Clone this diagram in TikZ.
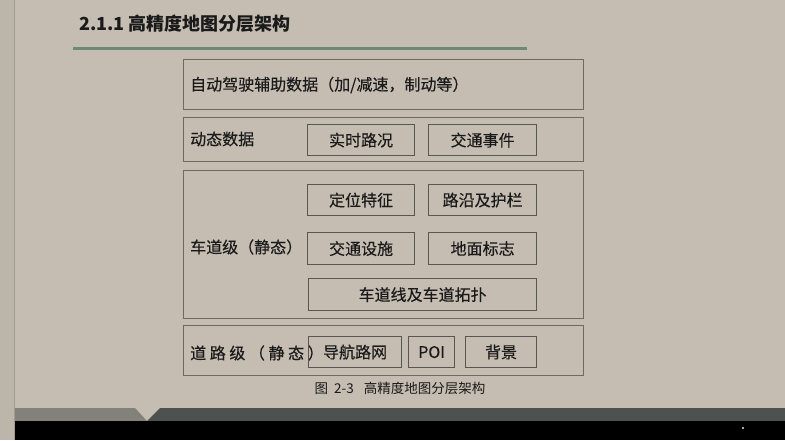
\documentclass[tikz,border=0pt]{standalone}
\usepackage{fontspec}
\newfontfamily\cjk[FakeBold=0.35]{Noto Sans CJK SC}
\newfontfamily\cjkb{Noto Sans CJK SC}
\definecolor{bg}{HTML}{C5BDB1}
\definecolor{strip}{HTML}{BCB5A9}
\definecolor{boxc}{HTML}{6E6962}
\definecolor{itemc}{HTML}{5A5651}
\definecolor{txt}{HTML}{1A1A1A}
\definecolor{rule}{HTML}{6D8977}
\definecolor{bandl}{HTML}{82827A}
\definecolor{bandd}{HTML}{4D5251}
\tikzset{
  layer/.style={draw=boxc, line width=1.1pt, anchor=north west, inner sep=0pt, minimum width=400pt},
  item/.style={draw=itemc, line width=1.2pt, anchor=north west, inner sep=0pt,
    font=\cjk\fontsize{16}{16}\selectfont, text=txt},
  lbl/.style={anchor=west, inner sep=0pt, font=\cjk\fontsize{16}{16}\selectfont, text=txt}
}
\begin{document}
\begin{tikzpicture}[x=1pt,y=-1pt]
\useasboundingbox (0,0) rectangle (785,440);
% background
\fill[bg] (0,0) rectangle (785,440);
\fill[strip] (0,0) rectangle (15,440);
\draw[color=strip!85!black, line width=0.6pt] (14.7,0) -- (14.7,440);
% bottom band
\fill[bandl] (15,408) -- (135,408) -- (147,421) -- (15,421) -- cycle;
\fill[bandd] (160,408) -- (785,408) -- (785,421) -- (147,421) -- cycle;
\fill[black] (15,421) rectangle (785,440);
\fill[white!80!gray] (743,428) circle (1.2pt);
% title
\node[anchor=west, inner sep=0pt, font=\cjkb\bfseries\fontsize{18}{18}\selectfont, text=txt] (title) at (79,24) {2.1.1 高精度地图分层架构};
\draw[rule, line width=2.6pt] (73,48.5) -- (527,48.5);
% layers
\node[layer, minimum height=50pt] (L1) at (183,59) {};
\node[lbl] (L1t) at (190,85) {自动驾驶辅助数据（加/减速，制动等）};
\node[layer, minimum height=44pt] (L2) at (183,117) {};
\node[lbl] (L2t) at (190,139) {动态数据};
\node[item, minimum width=107pt, minimum height=31pt] (rt) at (307,124) {实时路况};
\node[item, minimum width=108pt, minimum height=31pt] (jt) at (428,124) {交通事件};
\node[layer, minimum height=148pt] (L3) at (183,170) {};
\node[lbl] (L3t) at (190,247) {车道级（静态）};
\node[item, minimum width=107pt, minimum height=31pt] (dw) at (307,184) {定位特征};
\node[item, minimum width=108pt, minimum height=31pt] (ly) at (428,184) {路沿及护栏};
\node[item, minimum width=107pt, minimum height=32pt] (js) at (307,232) {交通设施};
\node[item, minimum width=108pt, minimum height=32pt] (dm) at (428,232) {地面标志};
\node[item, minimum width=228pt, minimum height=32pt] (cd) at (308,278) {车道线及车道拓扑};
\node[layer, minimum height=50pt] (L4) at (183,325) {};
\node[lbl] (L4t) at (190,353) {道 路 级 （ 静 态 ）};
\node[item, minimum width=93pt, minimum height=31pt] (dh) at (308,336) {导航路网};
\node[item, minimum width=46pt, minimum height=31pt] (poi) at (408,336) {POI};
\node[item, minimum width=71pt, minimum height=31pt] (bj) at (465,336) {背景};
% caption
\node[inner sep=0pt, font=\cjkb\fontsize{13.5}{13.5}\selectfont, text=txt] (cap) at (400,388) {图\hspace{6pt}2-3\hspace{10pt}高精度地图分层架构};
\end{tikzpicture}
\end{document}
